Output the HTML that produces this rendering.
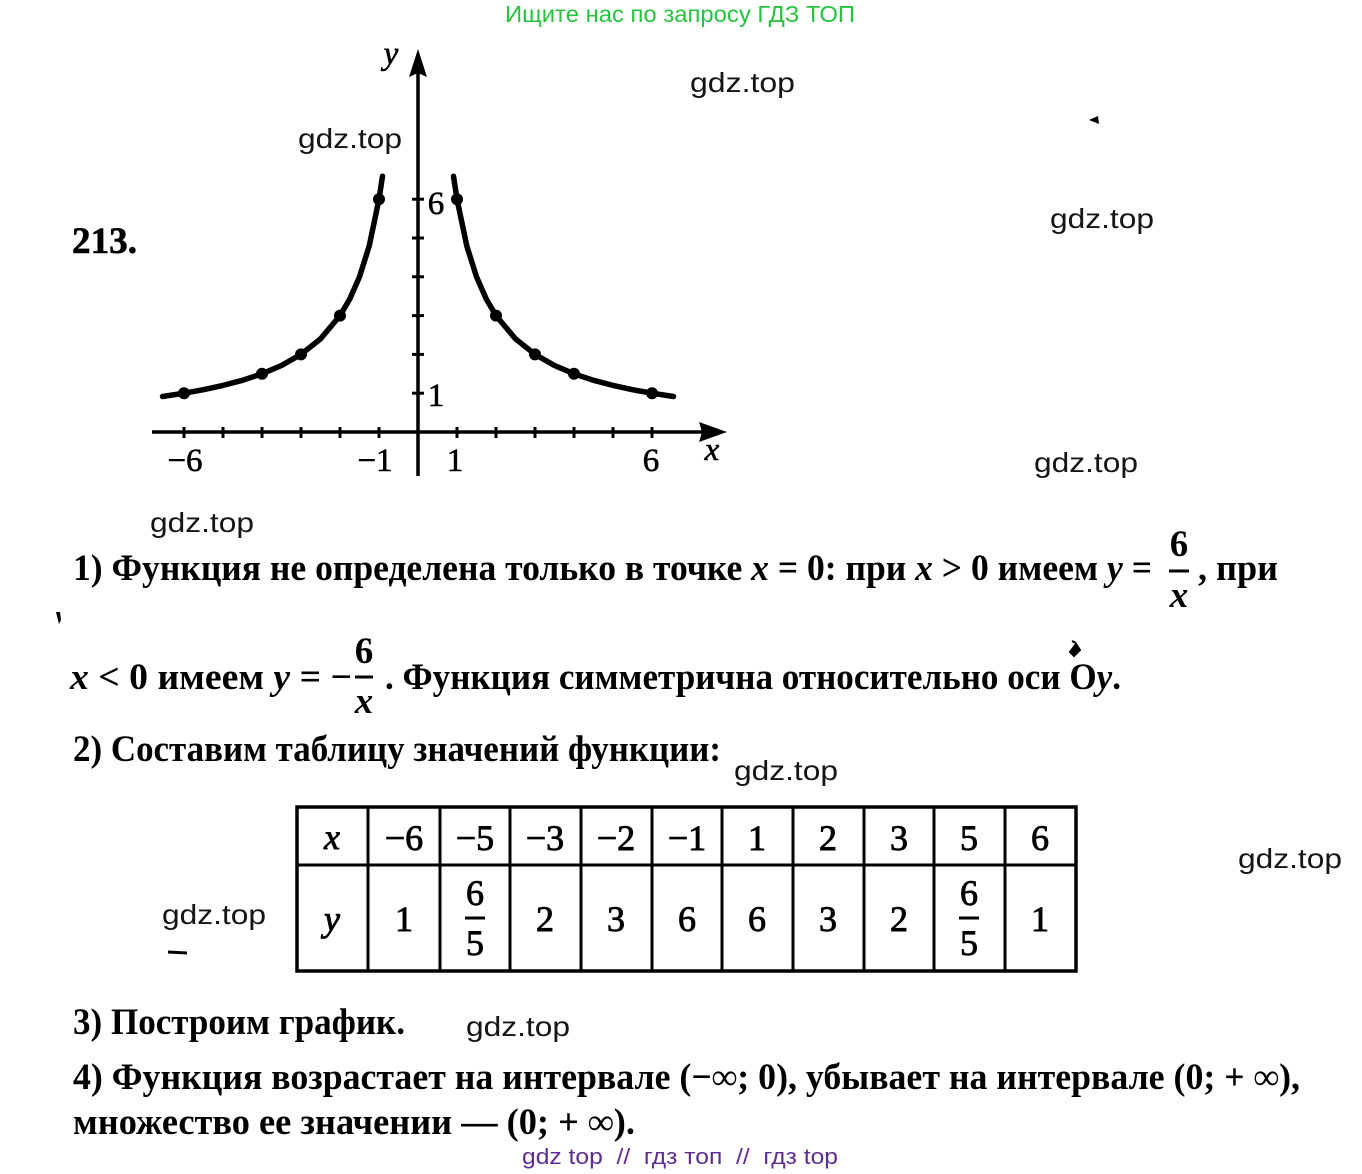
<!DOCTYPE html>
<html><head><meta charset="utf-8"><style>
html,body{margin:0;padding:0;background:#fff;}
svg{display:block;}
.s{font-family:"Liberation Sans",sans-serif;}
.t{font-family:"Liberation Serif",serif;font-weight:bold;font-size:37px;fill:#000;}
.n{font-family:"Liberation Serif",serif;font-weight:normal;font-size:36px;fill:#000;stroke:#000;stroke-width:0.9;}
.g{font-family:"Liberation Serif",serif;font-size:33px;fill:#000;stroke:#000;stroke-width:0.6;}
.w{font-family:"Liberation Sans",sans-serif;font-size:28px;fill:#151515;}
</style></head><body>
<svg width="1362" height="1174" viewBox="0 0 1362 1174" xmlns="http://www.w3.org/2000/svg">
<rect width="1362" height="1174" fill="#fff"/>
<!-- header -->
<text x="505" y="22" class="s" font-size="23" fill="#27c33f" textLength="350" lengthAdjust="spacingAndGlyphs">Ищите нас по запросу ГДЗ ТОП</text>
<!-- watermarks -->
<text x="690" y="92" class="w" textLength="105" lengthAdjust="spacingAndGlyphs">gdz.top</text>
<text x="298" y="148" class="w" textLength="104" lengthAdjust="spacingAndGlyphs">gdz.top</text>
<text x="1050" y="228" class="w" textLength="104" lengthAdjust="spacingAndGlyphs">gdz.top</text>
<text x="1034" y="472" class="w" textLength="104" lengthAdjust="spacingAndGlyphs">gdz.top</text>
<text x="150" y="532" class="w" textLength="104" lengthAdjust="spacingAndGlyphs">gdz.top</text>
<text x="734" y="780" class="w" textLength="104" lengthAdjust="spacingAndGlyphs">gdz.top</text>
<text x="1238" y="868" class="w" textLength="104" lengthAdjust="spacingAndGlyphs">gdz.top</text>
<text x="162" y="924" class="w" textLength="104" lengthAdjust="spacingAndGlyphs">gdz.top</text>
<text x="466" y="1036" class="w" textLength="104" lengthAdjust="spacingAndGlyphs">gdz.top</text>
<!-- stray marks -->
<path d="M1089 120 L1098 116 L1099 124 Z" fill="#000"/>
<path d="M56 612 L60 612 L61 620 L59 624 Z" fill="#000"/>
<path d="M1070 652 L1076 644 L1080 650 L1074 656 Z M1072 641 L1076 643" fill="#000" stroke="#000" stroke-width="2"/>
<line x1="168" y1="952" x2="187" y2="953" stroke="#000" stroke-width="3"/>
<!-- 213. -->
<text x="72" y="253" class="t" font-size="35" stroke="#000" stroke-width="0.6" textLength="65" lengthAdjust="spacingAndGlyphs">213.</text>
<!-- graph axes -->
<g stroke="#000" fill="none">
<line x1="152" y1="432" x2="705" y2="432" stroke-width="3.5"/>
<line x1="418" y1="476" x2="418" y2="70" stroke-width="3.5"/>
</g>
<polygon points="727,432 699,422 702,432 699,442" fill="#000"/>
<polygon points="418,49 409,77 418,73 427,77" fill="#000"/>
<g stroke="#000" stroke-width="3">
<line x1="184" y1="427" x2="184" y2="438"/>
<line x1="223" y1="427" x2="223" y2="438"/>
<line x1="262" y1="427" x2="262" y2="438"/>
<line x1="301" y1="427" x2="301" y2="438"/>
<line x1="340" y1="427" x2="340" y2="438"/>
<line x1="379" y1="427" x2="379" y2="438"/>
<line x1="457" y1="427" x2="457" y2="438"/>
<line x1="496" y1="427" x2="496" y2="438"/>
<line x1="535" y1="427" x2="535" y2="438"/>
<line x1="574" y1="427" x2="574" y2="438"/>
<line x1="613" y1="427" x2="613" y2="438"/>
<line x1="652" y1="427" x2="652" y2="438"/>
<line x1="412" y1="393.2" x2="424" y2="393.2"/>
<line x1="412" y1="354.4" x2="424" y2="354.4"/>
<line x1="412" y1="315.6" x2="424" y2="315.6"/>
<line x1="412" y1="276.8" x2="424" y2="276.8"/>
<line x1="412" y1="238" x2="424" y2="238"/>
<line x1="412" y1="199.2" x2="424" y2="199.2"/>
</g>
<!-- curves -->
<g stroke="#000" stroke-width="5.5" fill="none" stroke-linecap="round" stroke-linejoin="round">
<polyline points="453.5,176.2 457,199.2 466.75,245.8 476.5,276.8 486.25,299 496,315.6 515.5,338.9 535,354.4 554.5,365.5 574,373.8 593.5,380.3 613,385.4 632.5,389.7 652,393.2 673.5,396.5"/>
<polyline points="382.5,176.2 379,199.2 369.25,245.8 359.5,276.8 349.75,299 340,315.6 320.5,338.9 301,354.4 281.5,365.5 262,373.8 242.5,380.3 223,385.4 203.5,389.7 184,393.2 162.5,396.5"/>
</g>
<g fill="#000">
<circle cx="457" cy="199.2" r="6"/><circle cx="496" cy="315.6" r="6"/><circle cx="535" cy="354.4" r="6"/><circle cx="574" cy="373.8" r="6"/><circle cx="652" cy="393.2" r="6"/>
<circle cx="379" cy="199.2" r="6"/><circle cx="340" cy="315.6" r="6"/><circle cx="301" cy="354.4" r="6"/><circle cx="262" cy="373.8" r="6"/><circle cx="184" cy="393.2" r="6"/>
</g>
<!-- graph labels -->
<text x="185" y="471" class="g" text-anchor="middle">−6</text>
<text x="375" y="471" class="g" text-anchor="middle">−1</text>
<text x="455" y="471" class="g" text-anchor="middle">1</text>
<text x="651" y="471" class="g" text-anchor="middle">6</text>
<text x="712" y="460" class="g" font-style="italic" text-anchor="middle">x</text>
<text x="391" y="64" class="g" font-style="italic" text-anchor="middle">y</text>
<text x="436" y="214" class="g" text-anchor="middle">6</text>
<text x="436" y="406" class="g" text-anchor="middle">1</text>
<!-- paragraph 1 -->
<text x="73" y="580" class="t" textLength="1079" lengthAdjust="spacingAndGlyphs">1) Функция не определена только в точке <tspan font-style="italic">x</tspan> = 0: при <tspan font-style="italic">x</tspan> &gt; 0 имеем <tspan font-style="italic">y</tspan> =</text>
<text x="1179" y="556" class="t" text-anchor="middle">6</text>
<line x1="1169" y1="571" x2="1189" y2="571" stroke="#000" stroke-width="3"/>
<text x="1179" y="607" class="t" font-style="italic" text-anchor="middle">x</text>
<text x="1198" y="580" class="t" textLength="80" lengthAdjust="spacingAndGlyphs">, при</text>
<text x="70" y="689" class="t" textLength="282" lengthAdjust="spacingAndGlyphs"><tspan font-style="italic">x</tspan> &lt; 0 имеем <tspan font-style="italic">y</tspan> = −</text>
<text x="364" y="663" class="t" text-anchor="middle">6</text>
<line x1="355" y1="677" x2="373" y2="677" stroke="#000" stroke-width="3"/>
<text x="364" y="713" class="t" font-style="italic" text-anchor="middle">x</text>
<text x="385" y="689" class="t" textLength="736" lengthAdjust="spacingAndGlyphs">. Функция симметрична относительно оси О<tspan font-style="italic">y</tspan>.</text>
<text x="73" y="761" class="t" textLength="648" lengthAdjust="spacingAndGlyphs">2) Составим таблицу значений функции:</text>
<!-- table -->
<g stroke="#000" fill="none">
<rect x="297" y="807" width="779" height="164" stroke-width="3.5"/>
<line x1="297" y1="865" x2="1076" y2="865" stroke-width="3"/>
<line x1="368" y1="807" x2="368" y2="971" stroke-width="3"/>
<line x1="440" y1="807" x2="440" y2="971" stroke-width="3"/>
<line x1="510" y1="807" x2="510" y2="971" stroke-width="3"/>
<line x1="581" y1="807" x2="581" y2="971" stroke-width="3"/>
<line x1="652" y1="807" x2="652" y2="971" stroke-width="3"/>
<line x1="722" y1="807" x2="722" y2="971" stroke-width="3"/>
<line x1="793" y1="807" x2="793" y2="971" stroke-width="3"/>
<line x1="864" y1="807" x2="864" y2="971" stroke-width="3"/>
<line x1="934" y1="807" x2="934" y2="971" stroke-width="3"/>
<line x1="1005" y1="807" x2="1005" y2="971" stroke-width="3"/>
</g>
<g text-anchor="middle">
<text x="332" y="849" font-style="italic" class="n">x</text>
<text x="404" y="850" class="n">−6</text>
<text x="475" y="850" class="n">−5</text>
<text x="545" y="850" class="n">−3</text>
<text x="616" y="850" class="n">−2</text>
<text x="687" y="850" class="n">−1</text>
<text x="757" y="850" class="n">1</text>
<text x="828" y="850" class="n">2</text>
<text x="899" y="850" class="n">3</text>
<text x="969" y="850" class="n">5</text>
<text x="1040" y="850" class="n">6</text>
<text x="332" y="931" font-style="italic" class="n">y</text>
<text x="404" y="931" class="n">1</text>
<text x="475" y="905" class="n">6</text>
<text x="475" y="955" class="n">5</text>
<text x="545" y="931" class="n">2</text>
<text x="616" y="931" class="n">3</text>
<text x="687" y="931" class="n">6</text>
<text x="757" y="931" class="n">6</text>
<text x="828" y="931" class="n">3</text>
<text x="899" y="931" class="n">2</text>
<text x="969" y="905" class="n">6</text>
<text x="969" y="955" class="n">5</text>
<text x="1040" y="931" class="n">1</text>
</g>
<line x1="465" y1="918" x2="485" y2="918" stroke="#000" stroke-width="3"/>
<line x1="959" y1="918" x2="979" y2="918" stroke="#000" stroke-width="3"/>
<!-- paragraphs 3,4 -->
<text x="73" y="1034" class="t" textLength="332" lengthAdjust="spacingAndGlyphs">3) Построим график.</text>
<text x="73" y="1089" class="t" textLength="1227" lengthAdjust="spacingAndGlyphs">4) Функция возрастает на интервале (−∞; 0), убывает на интервале (0; + ∞),</text>
<text x="73" y="1134" class="t" textLength="562" lengthAdjust="spacingAndGlyphs">множество ее значении — (0; + ∞).</text>
<!-- footer -->
<text x="522" y="1164" class="s" font-size="22" fill="#5e2d94" textLength="316" lengthAdjust="spacingAndGlyphs" xml:space="preserve">gdz top  //  гдз топ  //  гдз top</text>
</svg>
</body></html>
